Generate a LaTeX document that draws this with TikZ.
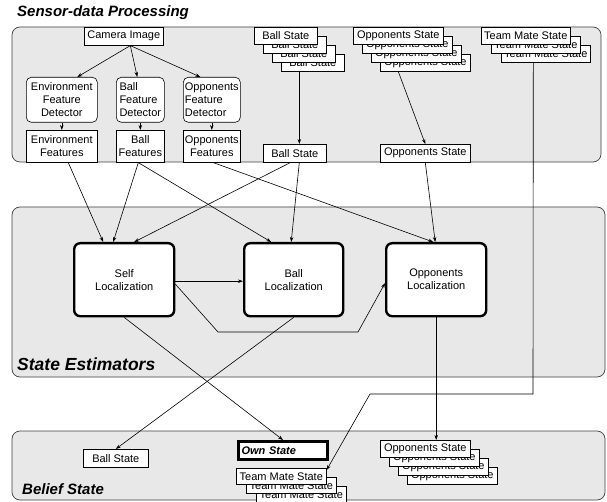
\documentclass[tikz,border=0pt]{standalone}
\usepackage{fontspec}
\setmainfont{Liberation Sans}
\usetikzlibrary{arrows.meta}
\begin{document}
\begin{tikzpicture}[x=1pt,y=-1pt,
  every node/.style={font=\fontsize{11}{13}\selectfont, inner sep=0pt},
  panel/.style={draw=black!75, fill=black!9, rounded corners=8pt, line width=0.7pt},
  paneltitle/.style={font=\fontsize{15}{17}\selectfont\bfseries\itshape, anchor=west},
  box/.style={draw, fill=white, line width=0.6pt, align=center, anchor=north west},
  det/.style={box, rounded corners=5pt},
  loc/.style={draw, fill=white, line width=2.4pt, rounded corners=6pt, align=center, anchor=north west, minimum height=73pt},
  arr/.style={-{Stealth[length=5pt,width=3.5pt]}, line width=0.6pt},
]
\useasboundingbox (0,0) rectangle (607,502);

% panels
\draw[panel] (12,27) rectangle (601,162);
\draw[panel] (12,207) rectangle (605,377);
\draw[panel] (12,431) rectangle (605,500);
\node[paneltitle] (t-sensor) at (17,13) {Sensor-data Processing};
\node[paneltitle, font=\fontsize{17.5}{19}\selectfont\bfseries\itshape] (t-state) at (17,364) {State Estimators};
\node[paneltitle] (t-belief) at (22,489) {Belief State};

% sensor-data processing
\node[box, minimum width=79pt, minimum height=18pt] (cam) at (84,27) {Camera Image};
\node[det, minimum width=71pt, minimum height=45pt] (envFD) at (26,77) {Environment\\Feature\\Detector};
\node[det, align=left, minimum width=48pt, minimum height=45pt] (ballFD) at (116,77) {Ball\\Feature\\Detector};
\node[det, align=left, minimum width=57pt, minimum height=45pt] (oppFD) at (183,77) {Opponents\\Feature\\Detector};
\node[box, minimum width=71pt, minimum height=32pt] (envF) at (26,130) {Environment\\Features};
\node[box, minimum width=48pt, minimum height=32pt] (ballF) at (116,130) {Ball\\Features};
\node[box, minimum width=57pt, minimum height=32pt] (oppF) at (183,130) {Opponents\\Features};

\node[box, minimum width=63pt, minimum height=17pt] (bs4) at (281,54) {Ball State};
\node[box, minimum width=63pt, minimum height=17pt] (bs3) at (272,45) {Ball State};
\node[box, minimum width=63pt, minimum height=17pt] (bs2) at (263,36) {Ball State};
\node[box, minimum width=63pt, minimum height=17pt] (bs1) at (254,27) {Ball State};

\node[box, minimum width=90pt, minimum height=17pt] (os4) at (380,54) {Opponents State};
\node[box, minimum width=90pt, minimum height=17pt] (os3) at (371,45) {Opponents State};
\node[box, minimum width=90pt, minimum height=17pt] (os2) at (362,36) {Opponents State};
\node[box, minimum width=90pt, minimum height=17pt] (os1) at (353,27) {Opponents State};

\node[box, minimum width=89pt, minimum height=17pt] (tm3) at (501,45) {Team Mate State};
\node[box, minimum width=89pt, minimum height=17pt] (tm2) at (491,36) {Team Mate State};
\node[box, minimum width=89pt, minimum height=17pt] (tm1) at (481,27) {Team Mate State};

\node[box, minimum width=63pt, minimum height=18pt] (bss) at (263,144) {Ball State};
\node[box, minimum width=90pt, minimum height=18pt] (oss) at (380,144) {Opponents State};

% state estimators
\node[loc, minimum width=100pt] (selfloc) at (73,242) {Self\\Localization};
\node[loc, minimum width=99pt] (ballloc) at (243,242) {Ball\\Localization};
\node[loc, minimum width=100pt] (opploc) at (385,242) {Opponents\\Localization};

% belief state
\node[box, minimum width=65pt, minimum height=18pt] (bbs) at (83,449) {Ball State};
\node[draw, fill=white, line width=3pt, anchor=north west, minimum height=18pt, text width=83pt, inner xsep=3pt, align=left,
  font=\fontsize{11}{13}\selectfont\bfseries\itshape] (own) at (237,440) {Own State};

\node[box, minimum width=90pt, minimum height=16pt] (tmb3) at (256,486) {Team Mate State};
\node[box, minimum width=90pt, minimum height=16pt] (tmb2) at (246,477) {Team Mate State};
\node[box, minimum width=90pt, minimum height=16pt] (tmb1) at (236,468) {Team Mate State};

\node[box, minimum width=90pt, minimum height=17pt] (obs4) at (407,467) {Opponents State};
\node[box, minimum width=90pt, minimum height=17pt] (obs3) at (398,458) {Opponents State};
\node[box, minimum width=90pt, minimum height=17pt] (obs2) at (389,449) {Opponents State};
\node[box, minimum width=90pt, minimum height=17pt] (obs1) at (380,440) {Opponents State};

% helper coordinates
\coordinate (k1) at (218,332);
\coordinate (k2) at (358,332);
\coordinate (t1) at (533,394);
\coordinate (t2) at (370,394);

% connectors in sensor panel
\draw[arr] ([xshift=6.5pt]cam.south) -- ([xshift=15.5pt]envFD.north);
\draw[arr] ([xshift=6.5pt]cam.south) -- ([xshift=-3pt]ballFD.north);
\draw[arr] ([xshift=6.5pt]cam.south) -- ([xshift=-11.5pt]oppFD.north);
\draw[arr] (envFD.south) -- (envF.north);
\draw[arr] (ballFD.south) -- (ballF.north);
\draw[arr] (oppFD.south) -- (oppF.north);
\draw[arr] ([xshift=-13.5pt]bs4.south) -- ([xshift=4.5pt]bss.north);
\draw[arr] ([xshift=-27pt]os4.south) -- (oss.north);

% sensor -> state estimators
\draw[arr] ([xshift=6.5pt]envF.south) -- ([xshift=-21pt]selfloc.north);
\draw[arr] ([xshift=-2pt]ballF.south) -- ([xshift=-11pt]selfloc.north);
\draw[arr] ([xshift=-2pt]ballF.south) -- ([xshift=-22.5pt]ballloc.north);
\draw[arr] ([xshift=-4.5pt]bss.south) -- ([xshift=10pt]selfloc.north);
\draw[arr] ([xshift=4.5pt]bss.south) -- ([xshift=-2.5pt]ballloc.north);
\draw[arr] ([xshift=1.5pt]oppF.south) -- ([xshift=-3pt]opploc.north);
\draw[arr] (oss.south) -- ([xshift=-1pt]opploc.north);

% within state estimators
\draw[arr] ([yshift=-1.5pt]selfloc.east) -- ([yshift=-1.5pt]ballloc.west);
\draw[arr] ([yshift=-4.5pt]selfloc.east) -- (k1) -- (k2) -- ([yshift=-3.5pt]opploc.west);

% state estimators -> belief
\draw[arr] (selfloc.south) -- (own.north);
\draw[arr] (ballloc.south) -- (bbs.north);
\draw[arr] (opploc.south) -- (opploc.south |- obs1.north);
\draw[arr] ([xshift=-12.5pt]tm3.south) -- (t1) -- (t2) -- ([yshift=-2pt]tmb1.north east);

\end{tikzpicture}
\end{document}
